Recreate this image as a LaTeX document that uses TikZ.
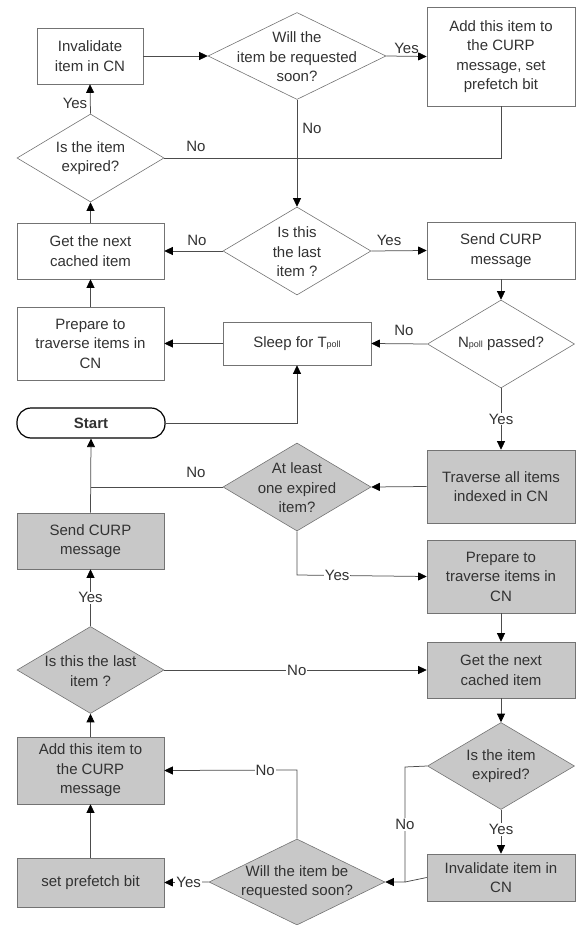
\documentclass[tikz,border=0pt]{standalone}
\usepackage{fontspec}
\setmainfont{Liberation Sans}
\usetikzlibrary{shapes.geometric,arrows.meta}
\definecolor{boxgray}{RGB}{200,200,200}
\definecolor{txt}{RGB}{50,50,50}
\begin{document}
\begin{tikzpicture}[x=1pt,y=-1pt,
  every node/.style={text=txt,font=\fontsize{15}{19.5}\selectfont},
  box/.style={draw=black!55,line width=0.6pt,rectangle,inner sep=2pt,align=center},
  gbox/.style={box,fill=boxgray},
  dia/.style={draw=black!55,line width=0.6pt,diamond,inner sep=0pt},
  gdia/.style={dia,fill=boxgray},
  dtxt/.style={align=center,inner sep=0pt},
  conn/.style={draw=black!70,line width=0.75pt},
  arr/.style={conn,-{Triangle[length=8.5pt,width=8pt,black]}},
  lbl/.style={inner sep=1pt},
  inl/.style={inner sep=1pt,fill=white},
]
\useasboundingbox (0,0) rectangle (583,925);

% ---------- upper part ----------
\node[box,minimum width=106,minimum height=56] (inv) at (90,56) {Invalidate\\item in CN};
\node[dia,minimum width=178,minimum height=87] (will) at (297,56) {};
\node[dtxt] (will-t) at (297,57) {Will the\\item be requested\\soon?};
\node[box,minimum width=148,minimum height=99] (add) at (501,56.5) {Add this item to\\the CURP\\message, set\\prefetch bit};
\node[dia,minimum width=147,minimum height=88] (exp) at (90.5,158) {};
\node[dtxt] (exp-t) at (90.5,158) {Is the item\\expired?};
\node[dia,minimum width=148,minimum height=88] (last) at (297,251) {};
\node[dtxt] (last-t) at (297,252) {Is this\\the last\\item ?};
\node[box,minimum width=147,minimum height=56] (gnext) at (90.5,251) {Get the next\\cached item};
\node[box,minimum width=148,minimum height=57] (send) at (501,250.5) {Send CURP\\message};
\node[dia,minimum width=147,minimum height=88] (npoll) at (501,344) {};
\node[dtxt] (npoll-t) at (501,344) {N{\fontsize{9}{9}\selectfont poll} passed?};
\node[box,minimum width=148,minimum height=43] (sleep) at (297,343.5) {Sleep for T{\fontsize{9}{9}\selectfont poll}};
\node[box,minimum width=147,minimum height=73] (prep) at (90.5,343.5) {Prepare to\\traverse items in\\CN};
\node[draw=black,line width=1.2pt,rounded corners=14pt,minimum width=148,minimum height=30,inner sep=0pt,font=\fontsize{15}{19.5}\selectfont\bfseries] (start) at (91,423) {Start};

\draw[arr] (inv.east) -- (will.west);
\draw[arr] (will.east) -- node[lbl,above=1pt] (l1) {Yes} (add.west);
\draw[arr] (will.south) -- (last.north);
\node[lbl] (l2) at (312,128) {No};
\draw[conn] (add.south) -- (501,158) -- (297,158);
\draw[conn] (exp.east) -- (297,158);
\node[lbl] (l3) at (196,146) {No};
\draw[arr] (exp.north) -- (inv.south);
\node[lbl] (l4) at (75,103) {Yes};
\draw[arr] (last.west) -- (gnext.east);
\node[lbl] (l5) at (197,240) {No};
\draw[arr] (gnext.north) -- (exp.south);
\draw[arr] (last.east) -- (send.west);
\node[lbl] (l6) at (389,240) {Yes};
\draw[arr] (send.south) -- (npoll.north);
\draw[arr] (npoll.west) -- (sleep.east);
\node[lbl] (l7) at (404,330) {No};
\draw[arr] (sleep.west) -- (prep.east);
\draw[arr] (prep.north) -- (gnext.south);
\draw[arr] (start.east) -- (297,423) -- (sleep.south);

% ---------- lower part ----------
\node[gbox,minimum width=148,minimum height=73] (trav) at (501,486.5) {Traverse all items\\indexed in CN};
\node[gdia,minimum width=148,minimum height=88] (atl) at (297,487) {};
\node[dtxt] (atl-t) at (297,488) {At least\\one expired\\item?};
\node[gbox,minimum width=147,minimum height=56] (sendg) at (90.5,541) {Send CURP\\message};
\node[gbox,minimum width=148,minimum height=73] (prepg) at (501,576.5) {Prepare to\\traverse items in\\CN};
\node[gbox,minimum width=148,minimum height=56] (gnextg) at (501,670) {Get the next\\cached item};
\node[gdia,minimum width=147,minimum height=87] (lastg) at (90.5,670) {};
\node[dtxt] (lastg-t) at (90.5,671) {Is this the last\\item ?};
\node[gbox,minimum width=147,minimum height=67] (addg) at (90.5,770.5) {Add this item to\\the CURP\\message};
\node[gdia,minimum width=147,minimum height=87] (expg) at (501,766) {};
\node[dtxt] (expg-t) at (501,766) {Is the item\\expired?};
\node[gbox,minimum width=148,minimum height=47] (invg) at (501,877.5) {Invalidate item in\\CN};
\node[gdia,minimum width=176,minimum height=86] (willg) at (297,882) {};
\node[dtxt] (willg-t) at (297,882) {Will the item be\\requested soon?};
\node[gbox,minimum width=147,minimum height=49] (setp) at (90.5,882.5) {set prefetch bit};

\draw[arr] (npoll.south) -- node[inl] (l8) {Yes} (trav.north);
\draw[arr] (trav.west) -- (atl.east);
\draw[conn] (atl.west) -- (90.5,487);
\node[lbl] (l9) at (196,472) {No};
\draw[arr] (sendg.north) -- (start.south);
\draw[arr] (atl.south) -- (297,575) -- node[inl,pos=0.31] (l10) {Yes} (prepg.west);
\draw[arr] (prepg.south) -- (gnextg.north);
\draw[arr] (lastg.east) -- node[inl,pos=0.505] (l11) {No} (gnextg.west);
\draw[arr] (lastg.north) -- node[inl,pos=0.5] (l12) {Yes} (sendg.south);
\draw[arr] (gnextg.south) -- (expg.north);
\draw[arr] (expg.south) -- node[inl,pos=0.45] (l13) {Yes} (invg.north);
\draw[arr] (expg.west) -- (405,767) -- node[inl,pos=0.5] (l14) {No} (405,882) -- (willg.east);
\draw[conn] (invg.west) -- (405,882);
\draw[arr] (willg.north) -- (297,770) -- node[inl,pos=0.24] (l15) {No} (addg.east);
\draw[arr] (willg.west) -- node[inl,pos=0.45] (l16) {Yes} (setp.east);
\draw[arr] (setp.north) -- (addg.south);
\draw[arr] (addg.north) -- (lastg.south);
\end{tikzpicture}
\end{document}
